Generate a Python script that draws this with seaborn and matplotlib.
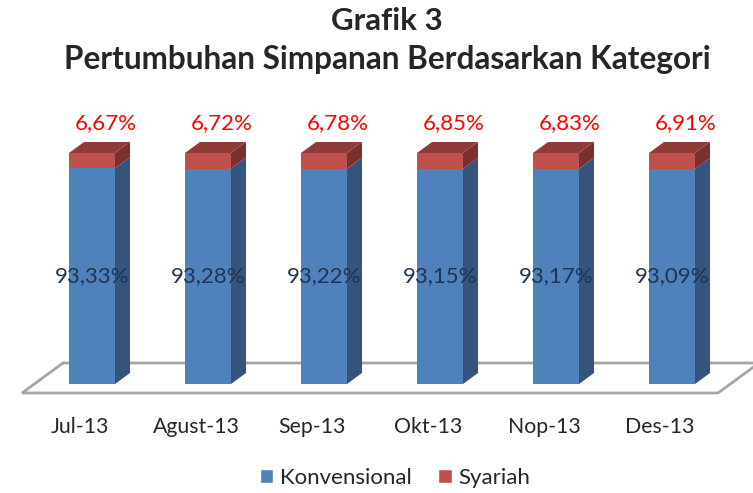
import matplotlib
matplotlib.use("Agg")
import matplotlib.pyplot as plt
import seaborn as sns
import numpy as np
import pandas as pd
from matplotlib.patches import Polygon, Patch

categories = ["Jul-13", "Agust-13", "Sep-13", "Okt-13", "Nop-13", "Des-13"]
konvensional = [93.33, 93.28, 93.22, 93.15, 93.17, 93.09]
syariah = [6.67, 6.72, 6.78, 6.85, 6.83, 6.91]
konv_labels = ["93,33%", "93,28%", "93,22%", "93,15%", "93,17%", "93,09%"]
syar_labels = ["6,67%", "6,72%", "6,78%", "6,85%", "6,83%", "6,91%"]
title_lines = ["Grafik 3", "Pertumbuhan Simpanan Berdasarkan Kategori"]

sns.set_style("white")
plt.rcParams["font.family"] = ["Lato", "DejaVu Sans"]

BLUE = "#4F81BD"
BLUE_SIDE = "#34547E"
RED = "#C0504D"
RED_TOP = "#8E3B39"
RED_SIDE = "#7C302E"
GRID = "#A6A6A6"

W, H = 753, 493
fig = plt.figure(figsize=(W / 100, H / 100), dpi=100)

# pixel geometry
px_per_unit_y = 2.31
floor_front_px = 393
ytop = 115
ybot = -(floor_front_px - 384) / px_per_unit_y
ax_top_px = 384 - ytop * px_per_unit_y
ax = fig.add_axes([22 / W, (H - floor_front_px) / H, 696 / W, (floor_front_px - ax_top_px) / H])
shift = 12 / 116

df = pd.DataFrame({"cat": categories, "konv": konvensional, "syar": syariah})
df["total"] = df["konv"] + df["syar"]

bw = 46 / 116
sns.barplot(data=df, x="cat", y="total", color=RED, saturation=1, width=bw, ax=ax,
            linewidth=0, zorder=3)
n_red = len(ax.patches)
sns.barplot(data=df, x="cat", y="konv", color=BLUE, saturation=1, width=bw, ax=ax,
            linewidth=0, zorder=4)
red_bars = ax.patches[:n_red]
blue_bars = ax.patches[n_red:]

ax.set_xlim(-0.5 - shift, 5.5 - shift)
ax.set_ylim(ybot, ytop)

dx = 15 / 116
dy = 11 / px_per_unit_y

for rb, bb in zip(red_bars, blue_bars):
    x0, w = bb.get_x(), bb.get_width()
    hb = bb.get_height()
    ht = rb.get_height()
    ax.add_patch(Polygon([(x0 + w, 0), (x0 + w + dx, dy), (x0 + w + dx, hb + dy), (x0 + w, hb)],
                         closed=True, facecolor=BLUE_SIDE, edgecolor="none", zorder=4, clip_on=False))
    ax.add_patch(Polygon([(x0 + w, hb), (x0 + w + dx, hb + dy), (x0 + w + dx, ht + dy), (x0 + w, ht)],
                         closed=True, facecolor=RED_SIDE, edgecolor="none", zorder=4, clip_on=False))
    ax.add_patch(Polygon([(x0, ht), (x0 + dx, ht + dy), (x0 + w + dx, ht + dy), (x0 + w, ht)],
                         closed=True, facecolor=RED_TOP, edgecolor="none", zorder=4, clip_on=False))

# floor
fdx = 41 / 116
fdy = 30 / px_per_unit_y
xl, xr = ax.get_xlim()
floor = [(xl + fdx, ybot + fdy), (xl, ybot), (xr, ybot), (xr + fdx, ybot + fdy), (xl + fdx, ybot + fdy)]
fx, fy = zip(*floor)
ax.plot(fx, fy, color=GRID, lw=2, zorder=1, clip_on=False, solid_joinstyle="miter")

for sp in ax.spines.values():
    sp.set_visible(False)

ax.set_xticks([xl + k for k in range(7)])
ax.set_xticklabels([""] * 7)
ax.tick_params(axis="x", which="major", length=5, width=1.5, color=GRID, direction="out")
ax.set_xticks([i - shift for i in range(len(categories))], minor=True)
ax.set_xticklabels(categories, minor=True)
ax.tick_params(axis="x", which="minor", length=0, pad=17, labelsize=15.3, labelcolor="#262626")
ax.set_yticks([])
ax.set_xlabel("")
ax.set_ylabel("")

for i, bb in enumerate(blue_bars):
    cx = bb.get_x() + bb.get_width() / 2
    ax.text(cx, bb.get_height() / 2, konv_labels[i], ha="center", va="center",
            fontsize=16, color="#1F3553", zorder=6)
    ax.text(cx + 14 / 116, red_bars[i].get_height() + 30 / px_per_unit_y, syar_labels[i],
            ha="center", va="center", fontsize=16, color="#FF0000", zorder=6, clip_on=False)

fig.text(387 / W, 1 - 21 / H, title_lines[0], ha="center", va="center", fontsize=22.5, fontweight="bold")
fig.text(387 / W, 1 - 59 / H, title_lines[1], ha="center", va="center", fontsize=22.7, fontweight="bold")

handles = [Patch(facecolor=BLUE, label="Konvensional"), Patch(facecolor=RED, label="Syariah")]
fig.legend(handles=handles, loc="center", bbox_to_anchor=(395 / W, 1 - 478 / H), ncol=2,
           frameon=False, fontsize=16, handlelength=0.6, handleheight=0.6, handletextpad=0.3,
           columnspacing=1.2)

fig.savefig("out.png", dpi=100)
